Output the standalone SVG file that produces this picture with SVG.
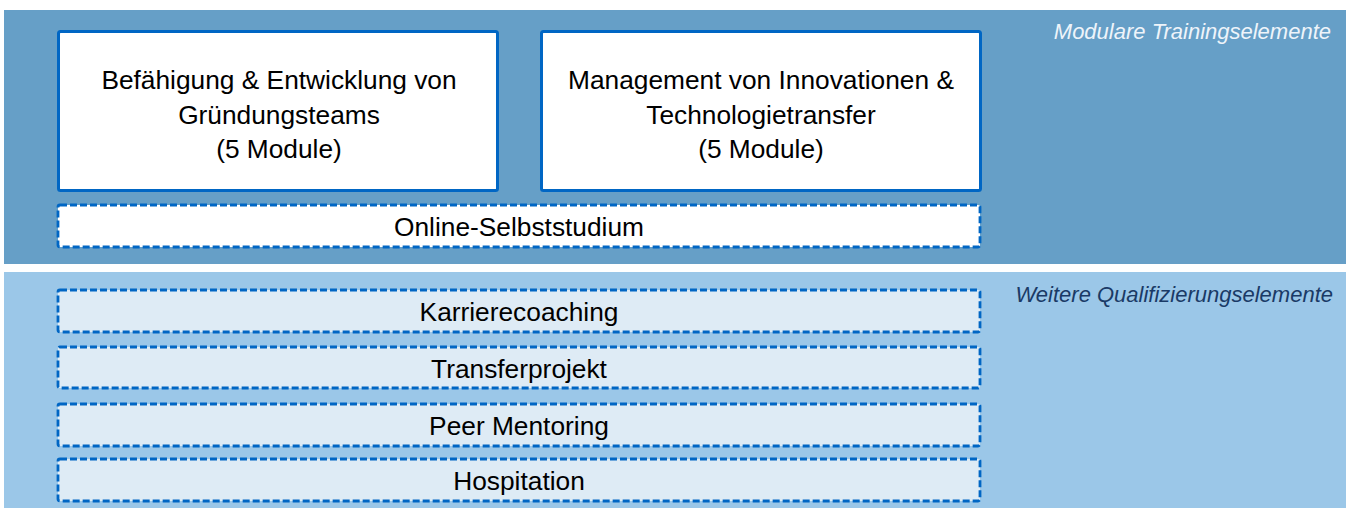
<svg xmlns="http://www.w3.org/2000/svg" width="1352" height="514" viewBox="0 0 1352 514">
  <style>
    .band-top { fill: #669fc7; }
    .band-bot { fill: #9bc7e8; }
    .solid { fill: #ffffff; stroke: #0066c4; stroke-width: 3; }
    .dash-w { fill: #ffffff; stroke: #0066c4; stroke-width: 2.8; stroke-dasharray: 7 3; }
    .dash-l { fill: #deebf5; stroke: #0066c4; stroke-width: 2.8; stroke-dasharray: 7 3; }
    .t { font-family: "Liberation Sans", Arial, sans-serif; font-size: 26.3px; fill: #000000; text-anchor: middle; }
    .lbl { font-family: "Liberation Sans", Arial, sans-serif; font-size: 22px; font-style: italic; text-anchor: end; }
  </style>
  <rect width="1352" height="514" fill="#ffffff"/>
  <g id="group-modular">
    <rect class="band-top" x="4" y="10" width="1342" height="254"/>
    <text class="lbl" x="1331" y="39" fill="#eef4fa">Modulare Trainingselemente</text>
  </g>
  <g id="group-weitere">
    <rect class="band-bot" x="4" y="272" width="1342" height="236"/>
    <text class="lbl" x="1333" y="302" fill="#1a3a66">Weitere Qualifizierungselemente</text>
  </g>
  <g id="node-befaehigung">
    <rect class="solid" x="58.5" y="31.5" width="439" height="159" rx="2"/>
    <text class="t" x="279" y="89">Befähigung &amp; Entwicklung von</text>
    <text class="t" x="279" y="123.5">Gründungsteams</text>
    <text class="t" x="279" y="158">(5 Module)</text>
  </g>
  <g id="node-management">
    <rect class="solid" x="541.5" y="31.5" width="439" height="159" rx="2"/>
    <text class="t" x="761" y="89">Management von Innovationen &amp;</text>
    <text class="t" x="761" y="123.5">Technologietransfer</text>
    <text class="t" x="761" y="158">(5 Module)</text>
  </g>
  <g id="node-online">
    <rect class="dash-w" x="58" y="205" width="922" height="42" rx="2"/>
    <text class="t" x="519" y="236">Online-Selbststudium</text>
  </g>
  <g id="node-karriere">
    <rect class="dash-l" x="58" y="290" width="922" height="42" rx="2"/>
    <text class="t" x="519" y="321">Karrierecoaching</text>
  </g>
  <g id="node-transfer">
    <rect class="dash-l" x="58" y="347" width="922" height="41" rx="2"/>
    <text class="t" x="519" y="378">Transferprojekt</text>
  </g>
  <g id="node-peer">
    <rect class="dash-l" x="58" y="404" width="922" height="42" rx="2"/>
    <text class="t" x="519" y="435">Peer Mentoring</text>
  </g>
  <g id="node-hospitation">
    <rect class="dash-l" x="58" y="459" width="922" height="42" rx="2"/>
    <text class="t" x="519" y="490">Hospitation</text>
  </g>
  <g id="connectors"/>
</svg>
